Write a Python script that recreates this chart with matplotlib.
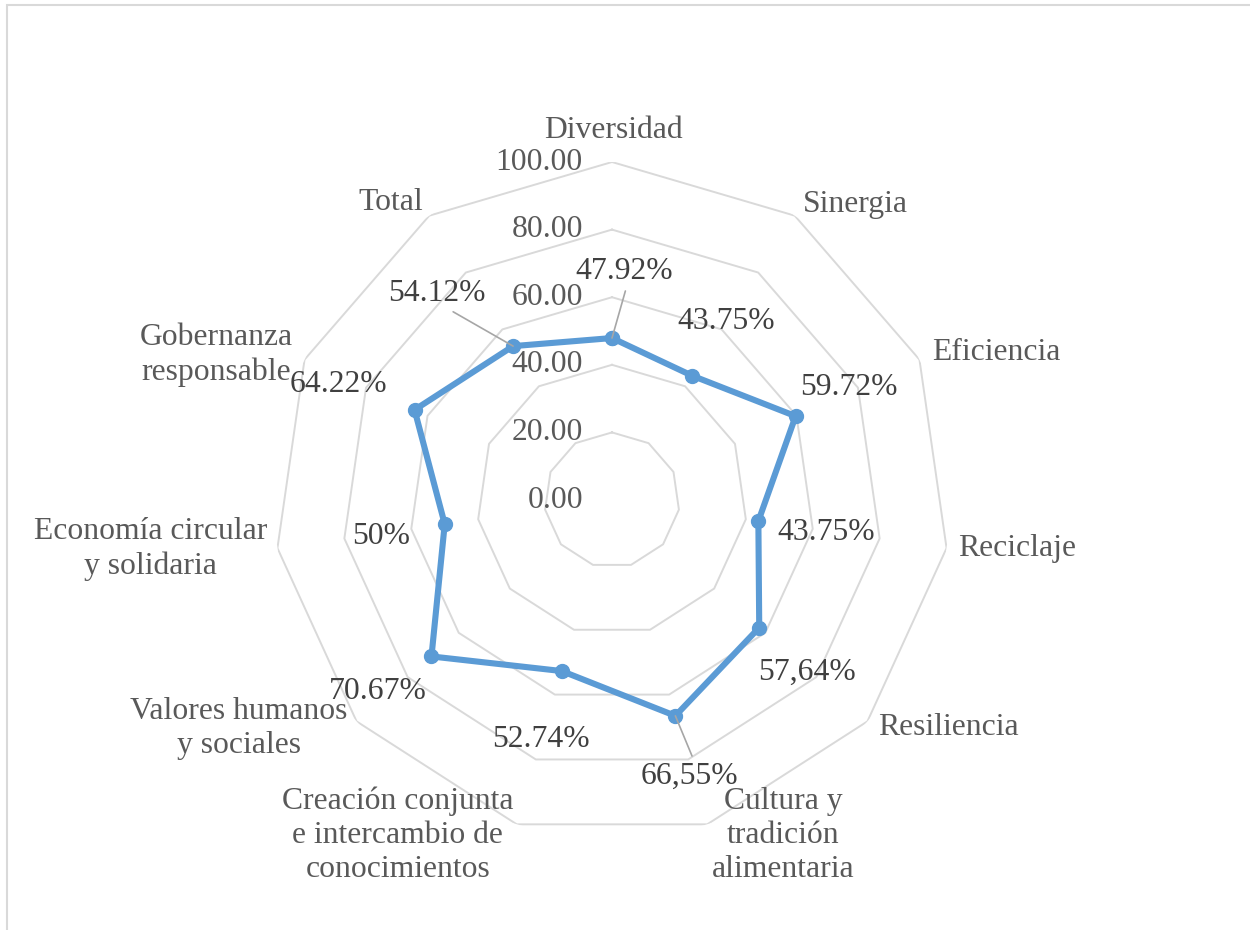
import numpy as np
import matplotlib.pyplot as plt
from matplotlib.patches import Rectangle

plt.rcParams['font.family'] = ['Liberation Serif', 'DejaVu Serif']

categories = ['Diversidad', 'Sinergia', 'Eficiencia', 'Reciclaje', 'Resiliencia',
              'Cultura y\ntradición\nalimentaria',
              'Creación conjunta\ne intercambio de\nconocimientos',
              'Valores humanos\ny sociales', 'Economía circular\ny solidaria',
              'Gobernanza\nresponsable', 'Total']
values = [47.92, 43.75, 59.72, 43.75, 57.64, 66.55, 52.74, 70.67, 50, 64.22, 54.12]
value_labels = ['47.92%', '43.75%', '59.72%', '43.75%', '57,64%', '66,55%',
                '52.74%', '70.67%', '50%', '64.22%', '54.12%']
rings = [0, 20, 40, 60, 80, 100]

# label offsets in pixels (dpi=100)
val_off = [(12, 67), (34, 54), (53, 29), (68, -11), (48, -45), (14, -60),
           (-21, -68), (-54, -35), (-64, -12), (-76, 25), (-76, 53)]
cat_off = [(1, 32), (61, 11), (77, 7), (71, 0), (81, -6), (76, -11),
           (-119, -11), (-118, -7), (-127, -1), (-88, 5), (-38, 13)]
leaders = {0: (0.53, 0.0), 5: (0.55, 1.0), 10: (0.59, 0.0)}
FS = 22.8

n = len(categories)
angles = np.linspace(0, 2 * np.pi, n, endpoint=False)
closed = np.append(angles, angles[0])

fig = plt.figure(figsize=(12.5, 9.3), dpi=100)
fig.patches.append(Rectangle((7 / 1250, -0.1), 1.2, 1.1 - 5 / 930,
                             transform=fig.transFigure, fill=False,
                             edgecolor='#D9D9D9', linewidth=1.5))

ax = fig.add_axes([0.2192, 0.0989, 0.5408, 0.7269], projection='polar')
ax.set_theta_offset(np.pi / 2)
ax.set_theta_direction(-1)
ax.set_ylim(0, 100)
ax.grid(False)
ax.set_xticks([])
ax.set_yticks([])
ax.spines['polar'].set_visible(False)
ax.patch.set_visible(False)

for r in rings:
    ax.plot(closed, [r] * (n + 1), color='#D9D9D9', linewidth=1.4, zorder=1)
    ax.annotate(f'{r:.2f}', xy=(0, r), xytext=(-29, 0), textcoords='offset pixels',
                ha='right', va='center', fontsize=FS, color='#595959',
                annotation_clip=False)

vals_closed = values + values[:1]
ax.plot(closed, vals_closed, color='#5B9BD5', linewidth=4.4, marker='o',
        markersize=10, zorder=3, clip_on=False)

for i, (a, v, lab) in enumerate(zip(angles, values, value_labels)):
    kw = {}
    if i in leaders:
        kw['arrowprops'] = dict(arrowstyle='-', color='#A6A6A6', linewidth=1.2,
                                relpos=leaders[i], shrinkA=2, shrinkB=0)
    ax.annotate(lab, xy=(a, v), xytext=val_off[i], textcoords='offset pixels',
                ha='center', va='center', fontsize=FS, color='#404040',
                annotation_clip=False, zorder=4, **kw)

for i, (a, c) in enumerate(zip(angles, categories)):
    ax.annotate(c, xy=(a, 100), xytext=cat_off[i], textcoords='offset pixels',
                ha='center', va='center', fontsize=FS, color='#595959',
                multialignment='center', linespacing=1.24, annotation_clip=False)

fig.savefig('out.png', dpi=100)
